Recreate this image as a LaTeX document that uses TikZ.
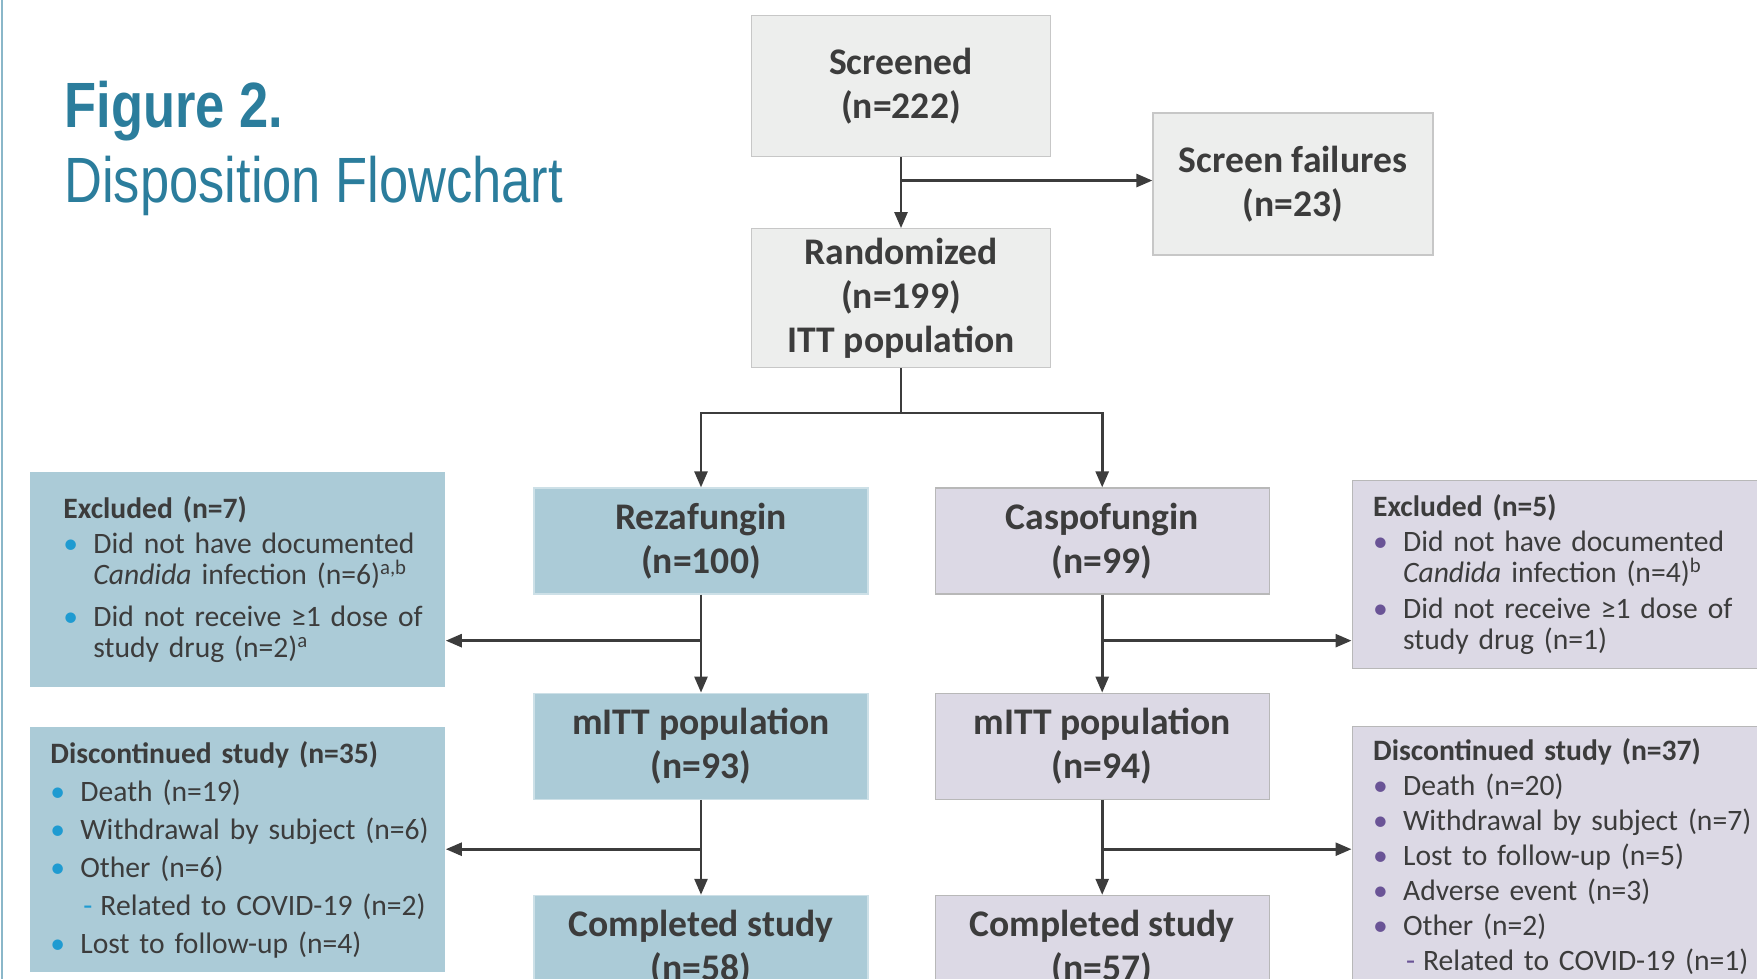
\documentclass[tikz,border=0pt]{standalone}
\usepackage{fontspec}
\setmainfont{Carlito}
\newfontfamily\titlefont[FakeStretch=0.82]{Liberation Sans}
\usepackage{xcolor}
\usetikzlibrary{arrows.meta, positioning, calc}

\definecolor{titleblue}{HTML}{2B7D9C}
\definecolor{rezablue}{HTML}{ABCBD7}
\definecolor{caspolilac}{HTML}{DCD9E5}
\definecolor{screengray}{HTML}{EDEEED}
\definecolor{bulblue}{HTML}{1F9BD1}
\definecolor{bulpurple}{HTML}{6A5496}
\definecolor{inkgray}{HTML}{3C3C3C}

% bullet line: colour, text
\newcommand{\bitem}[2]{\par\hangindent=15pt\hangafter=1\noindent\makebox[15pt][l]{\textcolor{#1}{\textbullet}}#2\par}
\newcommand{\sitem}[2]{\par\noindent\hspace*{16.5pt}\textcolor{#1}{-}\hspace*{4pt}#2\par}

\begin{document}
\begin{tikzpicture}[
    x=0.5pt, y=-0.5pt,
    font=\fontsize{18.8}{22}\selectfont\bfseries,
    text=inkgray,
    box/.style={rectangle, minimum width=167pt, minimum height=53pt, align=center, inner sep=0pt},
    graybox/.style={box, draw=black!22, fill=screengray, line width=0.6pt},
    rezabox/.style={box, fill=rezablue, draw=rezablue!60!white, line width=0.6pt},
    caspobox/.style={box, fill=caspolilac, draw=black!28, line width=0.6pt},
    sidebox/.style={rectangle, anchor=north west, text width=207.5pt, align=left, inner sep=0pt,
        font=\fontsize{14.8}{15.5}\selectfont},
    arrow/.style={line width=1.3pt, draw=inkgray, -{Triangle[length=8pt, width=6.5pt]}},
    link/.style={line width=1.3pt, draw=inkgray}
]
\useasboundingbox (0,0) rectangle (1757,979);
\clip (0,0) rectangle (1757,979);
\draw[line width=1pt, draw=titleblue!55!white] (2,0) -- (2,979);

% title
\node[anchor=base west, inner sep=0pt, font=\titlefont\fontsize{32}{36}\selectfont\bfseries, text=titleblue] (fig) at (64,127) {Figure 2.};
\node[anchor=base west, inner sep=0pt, font=\titlefont\fontsize{32}{36}\selectfont, text=titleblue] (subt) at (64,202) {Disposition Flowchart};

% screening
\node[graybox, minimum width=149.5pt, minimum height=70.5pt] (screened) at (901,86) {Screened \\ (n=222)};
\node[graybox, minimum width=140pt, minimum height=71pt] (sfail) at (1293,184) {Screen failures \\ (n=23)};
\node[graybox, minimum width=149.5pt, minimum height=69.5pt, below=35.5pt of screened] (rand) {Randomized \\ (n=199) \\ ITT population};

% treatment arms
\node[rezabox] (reza) at (701,541) {Rezafungin \\ (n=100)};
\node[caspobox, right=33pt of reza] (caspo) {Caspofungin \\ (n=99)};
\node[rezabox, below=49pt of reza] (mittL) {mITT population \\ (n=93)};
\node[caspobox, below=49pt of caspo] (mittR) {mITT population \\ (n=94)};
\node[rezabox, below=47.5pt of mittL] (compL) {Completed study \\ (n=58)};
\node[caspobox, below=47.5pt of mittR] (compR) {Completed study \\ (n=57)};

% side boxes
\node[sidebox, fill=rezablue, minimum height=107.5pt] (exclL) at (30,472) {%
    \leftskip=16.5pt
    \textbf{Excluded (n=7)}\par\vspace{2pt}
    \bitem{bulblue}{Did not have documented\newline \textit{Candida} infection (n=6)\textsuperscript{a,b}}\vspace{5.5pt}
    \bitem{bulblue}{Did not receive ≥1 dose of\newline study drug (n=2)\textsuperscript{a}}};
\node[sidebox, fill=caspolilac, draw=black!28, line width=0.6pt, minimum height=94pt] (exclR) at (1351.5,480) {%
    \leftskip=10.5pt
    \textbf{Excluded (n=5)}\par\vspace{2pt}
    \bitem{bulpurple}{Did not have documented\newline \textit{Candida} infection (n=4)\textsuperscript{b}}\vspace{2.5pt}
    \bitem{bulpurple}{Did not receive ≥1 dose of\newline study drug (n=1)}};
\node[sidebox, fill=rezablue, minimum height=122.5pt, font=\fontsize{14.8}{19}\selectfont] (discL) at (30,727) {%
    \leftskip=10pt
    \textbf{Discontinued study (n=35)}
    \bitem{bulblue}{Death (n=19)}
    \bitem{bulblue}{Withdrawal by subject (n=6)}
    \bitem{bulblue}{Other (n=6)}
    \sitem{bulblue}{Related to COVID-19 (n=2)}
    \bitem{bulblue}{Lost to follow-up (n=4)}};
\node[sidebox, fill=caspolilac, draw=black!28, line width=0.6pt, minimum height=130pt, font=\fontsize{14.8}{17.5}\selectfont] (discR) at (1351.5,726) {%
    \leftskip=10.5pt
    \textbf{Discontinued study (n=37)}
    \bitem{bulpurple}{Death (n=20)}
    \bitem{bulpurple}{Withdrawal by subject (n=7)}
    \bitem{bulpurple}{Lost to follow-up (n=5)}
    \bitem{bulpurple}{Adverse event (n=3)}
    \bitem{bulpurple}{Other (n=2)}
    \sitem{bulpurple}{Related to COVID-19 (n=1)}};

% connectors
\coordinate (sbranch) at ($(screened.south)!0.33!(rand.north)$);
\coordinate (split) at (901,413);
\coordinate (exL) at ($(reza.south)!0.47!(mittL.north)$);
\coordinate (exR) at ($(caspo.south)!0.47!(mittR.north)$);
\coordinate (dcL) at ($(mittL.south)!0.52!(compL.north)$);
\coordinate (dcR) at ($(mittR.south)!0.52!(compR.north)$);

\draw[arrow] (screened) -- (rand);
\draw[arrow] (sbranch) -- (sbranch -| sfail.west);
\draw[link] (rand) -- (split);
\draw[arrow] (split) -| (reza.north);
\draw[arrow] (split) -| (caspo.north);
\draw[arrow] (reza) -- (mittL);
\draw[arrow] (caspo) -- (mittR);
\draw[arrow] (mittL) -- (compL);
\draw[arrow] (mittR) -- (compR);
\draw[arrow] (exL) -- (exL -| exclL.east);
\draw[arrow] (exR) -- (exR -| exclR.west);
\draw[arrow] (dcL) -- (dcL -| discL.east);
\draw[arrow] (dcR) -- (dcR -| discR.west);

\end{tikzpicture}
\end{document}
